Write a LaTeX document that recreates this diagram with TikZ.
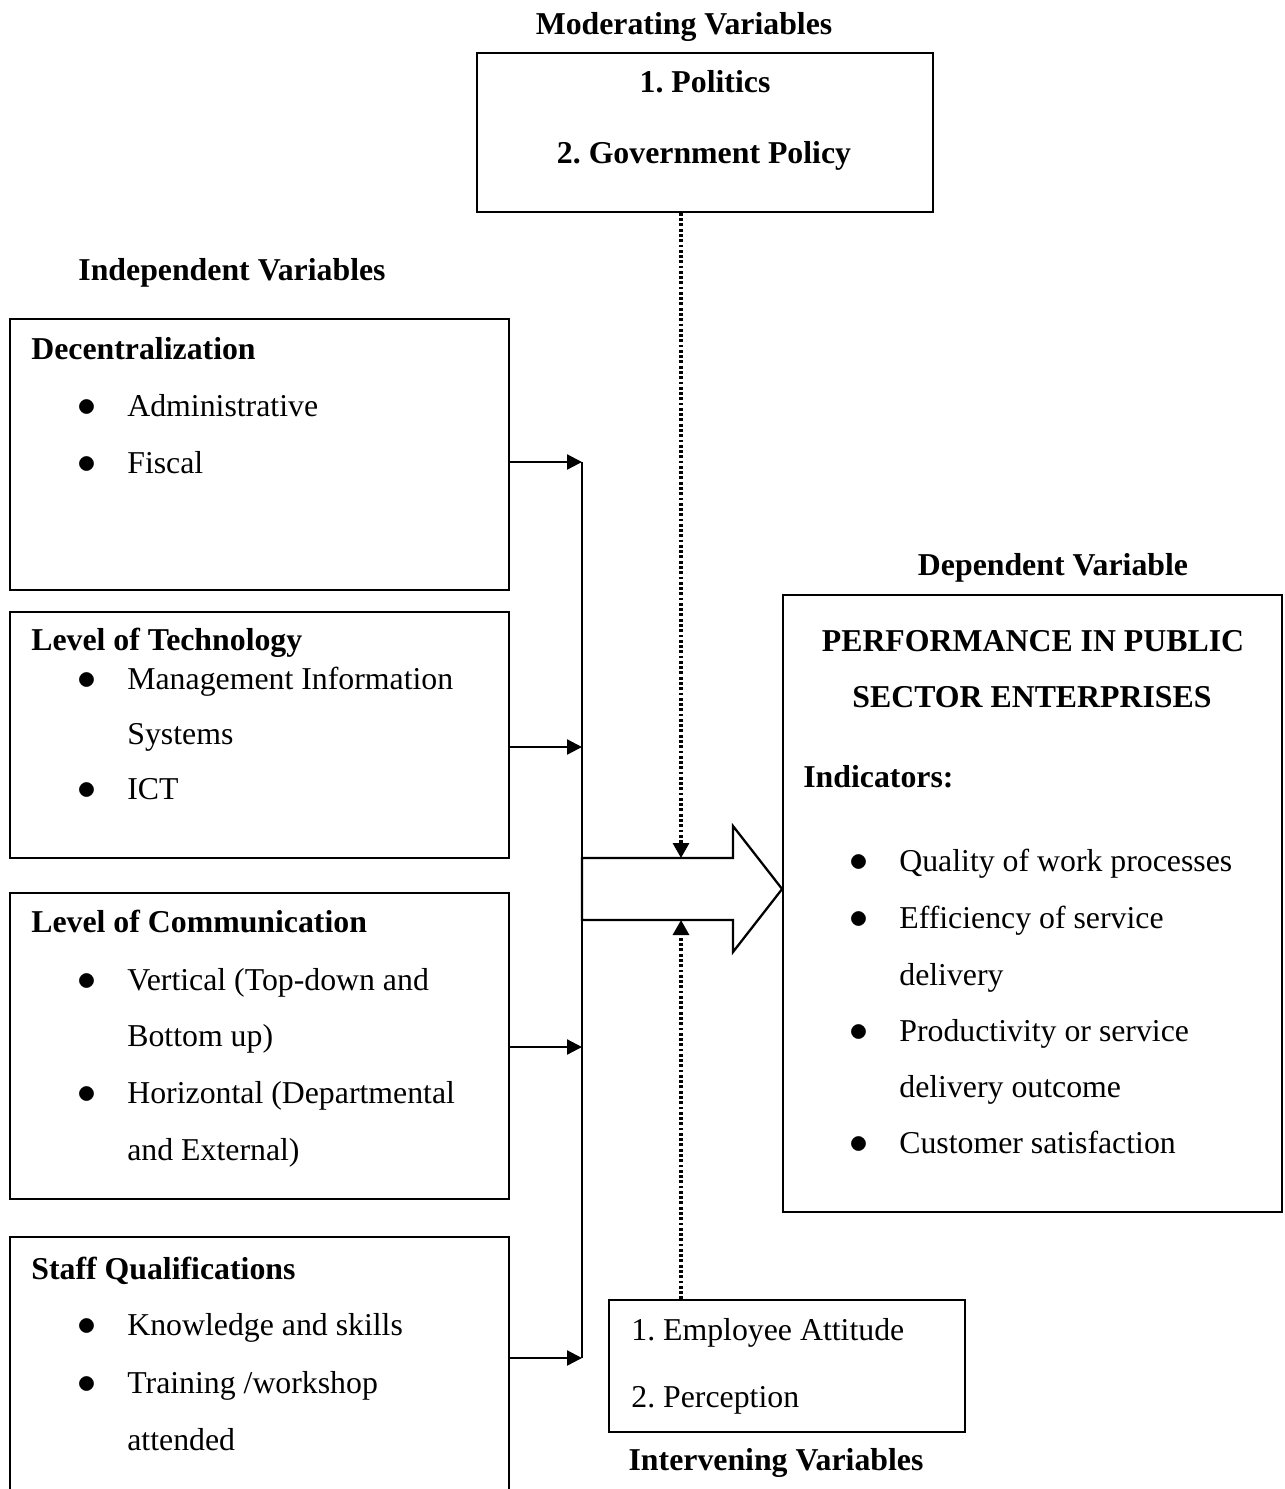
\documentclass[tikz,border=0pt]{standalone}
\usepackage{fontspec}
\setmainfont{Liberation Serif}
\usetikzlibrary{arrows.meta}
\usetikzlibrary{calc}
\usetikzlibrary{fit}
\usetikzlibrary{positioning}

\newcommand{\itembul}{\llap{\smash{\scalebox{1.25}{$\bullet$}}\hspace{0.62cm}}}

\tikzset{
	box/.style={draw,line width=1pt,inner sep=0},
	txt/.style={inner sep=0,anchor=base west},
	hd/.style={txt,font=\bfseries,text depth=0pt},
	ttl/.style={inner sep=0,anchor=base,font=\bfseries},
	link/.style={line width=1.3pt,-{Triangle[length=0.3cm,width=0.3cm]}},
	infl/.style={line width=1.8pt,dash pattern=on 1.6pt off 1.4pt,-{Triangle[length=0.3cm,width=0.32cm]}}
}

\begin{document}
\frenchspacing
\fontsize{18.1}{22}\selectfont
\begin{tikzpicture}[x=0.02cm,y=-0.02cm]
		\useasboundingbox (0,0) rectangle (1285,1489);
		% moderating
		\node[ttl](tmod) at (684,34){Moderating Variables};
		\node[box,fit={(477,53) (933,212)}](mod){};
		\node[ttl](pol) at (705,92){1. Politics};
		\node[ttl](gov) at (704,163){2. Government Policy};
		% independent
		\node[ttl](tind) at (232,280){Independent Variables};
		\node[box,fit={(10,319) (509,590)}](dec){};
		\node[hd](hdec) at (31,359){Decentralization};
		\node[txt](dec1) at (127,416){\itembul Administrative};
		\node[txt](dec2) at (127,473){\itembul Fiscal};
		\node[box,fit={(10,612) (509,858)}](tech){};
		\node[hd](htech) at (31,650){Level of Technology};
		\node[txt](tech1) at (127,689){\itembul Management Information};
		\node[txt](tech2) at (127,744){Systems};
		\node[txt](tech3) at (127,799){\itembul ICT};
		\node[box,fit={(10,893) (509,1199)}](comm){};
		\node[hd](hcomm) at (31,932){Level of Communication};
		\node[txt](comm1) at (127,990){\itembul Vertical (Top-down and};
		\node[txt](comm2) at (127,1046){Bottom up)};
		\node[txt](comm3) at (127,1103){\itembul Horizontal (Departmental};
		\node[txt](comm4) at (127,1160){and External)};
		\node[box,fit={(10,1237) (509,1500)}](staff){};
		\node[hd](hstaff) at (31,1279){Staff Qualifications};
		\node[txt](staff1) at (127,1335){\itembul Knowledge and skills};
		\node[txt](staff2) at (127,1393){\itembul Training /workshop};
		\node[txt](staff3) at (127,1450){attended};
		% dependent
		\node[ttl](tdep) at (1053,575){Dependent Variable};
		\node[box,fit={(783,595) (1282,1212)}](dep){};
		\node[ttl](perf) at (1033,651){PERFORMANCE IN PUBLIC};
		\node[ttl](sect) at (1032,707){SECTOR ENTERPRISES};
		\node[hd](ind) at (803,787){Indicators:};
		\node[txt](dep1) at (899,871){\itembul Quality of work processes};
		\node[txt](dep2) at (899,928){\itembul Efficiency of service};
		\node[txt](dep3) at (899,985){delivery};
		\node[txt](dep4) at (899,1041){\itembul Productivity or service};
		\node[txt](dep5) at (899,1097){delivery outcome};
		\node[txt](dep6) at (899,1153){\itembul Customer satisfaction};
		% intervening
		\node[box,fit={(609,1300) (965,1432)}](intv){};
		\node[txt](att) at (631,1340){1. Employee Attitude};
		\node[txt](perc) at (631,1407){2. Perception};
		\node[ttl](tint) at (776,1470){Intervening Variables};
		% connectors
		\coordinate(j1) at (582,462);
		\coordinate(j2) at (582,747);
		\coordinate(j3) at (582,1047);
		\coordinate(j4) at (582,1358);
		\draw[line width=1.3pt] (j1) -- (j4);
		\draw[link] (dec.east |- j1) -- (j1);
		\draw[link] (tech.east |- j2) -- (j2);
		\draw[link] (comm.east |- j3) -- (j3);
		\draw[link] (staff.east |- j4) -- (j4);
		\draw[line width=1.3pt,fill=white] (582,858) -- (733,858) -- (733,826) -- (dep.west |- 0,889) -- (733,952) -- (733,920) -- (582,920) -- cycle;
		\coordinate(intop) at (681,858);
		\coordinate(inbot) at (681,920);
		\draw[infl] (mod.south -| intop) -- (intop);
		\draw[infl] (intv.north -| inbot) -- (inbot);
	\end{tikzpicture}
\end{document}
